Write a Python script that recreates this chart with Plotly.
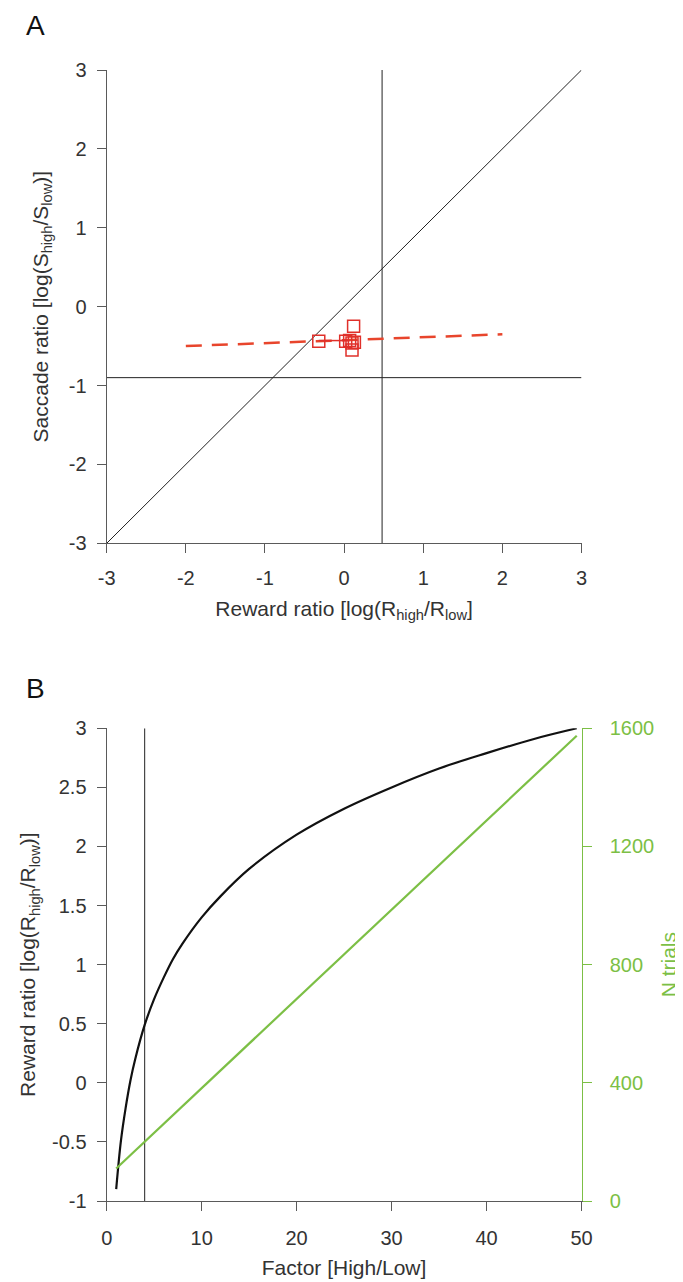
import plotly.graph_objects as go

# ---------------- Panel A data ----------------
diag_x = [-3, 3]
diag_y = [-3, 3]
vline_a_x = 0.48
hline_a_y = -0.9
fit_x = [-2, 2]
fit_y = [-0.50, -0.35]
sq_x = [-0.32, 0.02, 0.07, 0.10, 0.13, 0.12, 0.10]
sq_y = [-0.44, -0.44, -0.43, -0.46, -0.45, -0.25, -0.55]
seg_x = [-0.32, 0.07]
seg_y = [-0.43, -0.43]
ticks_a = [-3, -2, -1, 0, 1, 2, 3]
ticks_a_text = ["-3", "-2", "-1", "0", "1", "2", "3"]

# ---------------- Panel B data ----------------
factor = [1, 1.5, 2, 2.5, 3, 4, 5, 6, 7, 8, 10, 12, 15, 20, 25, 30, 35, 40, 45, 49.5]
reward_ratio = [-0.90, -0.49, -0.21, 0.02, 0.20, 0.49, 0.71, 0.89, 1.05, 1.18,
                1.40, 1.58, 1.81, 2.10, 2.32, 2.50, 2.66, 2.79, 2.91, 3.00]
ntrials_x = [1, 49.5]
ntrials_y = [110, 1575]
vline_b_x = 4
ticks_bx = [0, 10, 20, 30, 40, 50]
ticks_by = [-1, -0.5, 0, 0.5, 1, 1.5, 2, 2.5, 3]
ticks_by_text = ["-1", "-0.5", "0", "0.5", "1", "1.5", "2", "2.5", "3"]
ticks_bn = [0, 400, 800, 1200, 1600]

GREEN = "#7cbf45"
AX = "#5a5a5a"
TXT = "#333333"
FONT = "Liberation Sans"
TICKSIZE = 20
TITLESIZE = 21

# page body has an 8px margin; figure sized to fit the window
OFF = 8
W = 683 - OFF
H = 1282 - OFF


def px(x):
    return (x - OFF) / W


def py(y):
    return 1 - (y - OFF) / H


fig = go.Figure()

# Panel A
fig.add_trace(go.Scatter(x=diag_x, y=diag_y, mode="lines",
                         line=dict(color="#222222", width=1), xaxis="x", yaxis="y"))
fig.add_trace(go.Scatter(x=[vline_a_x, vline_a_x], y=[-3, 3], mode="lines",
                         line=dict(color="#222222", width=1), xaxis="x", yaxis="y"))
fig.add_trace(go.Scatter(x=[-3, 3], y=[hline_a_y, hline_a_y], mode="lines",
                         line=dict(color="#222222", width=1), xaxis="x", yaxis="y"))
fig.add_trace(go.Scatter(x=fit_x, y=fit_y, mode="lines",
                         line=dict(color="#e8452c", width=2.5, dash="16px,10px"),
                         xaxis="x", yaxis="y"))
fig.add_trace(go.Scatter(x=seg_x, y=seg_y, mode="lines",
                         line=dict(color="#e0302a", width=1.5), xaxis="x", yaxis="y"))
fig.add_trace(go.Scatter(x=sq_x, y=sq_y, mode="markers",
                         marker=dict(symbol="square-open", size=12, color="#e0302a",
                                     line=dict(width=1.5, color="#e0302a")),
                         xaxis="x", yaxis="y"))

# Panel B
fig.add_trace(go.Scatter(x=[vline_b_x, vline_b_x], y=[-1, 3], mode="lines",
                         line=dict(color="#222222", width=1), xaxis="x2", yaxis="y2"))
fig.add_trace(go.Scatter(x=factor, y=reward_ratio, mode="lines",
                         line=dict(color="#111111", width=2.2, shape="spline"),
                         xaxis="x2", yaxis="y2"))
fig.add_trace(go.Scatter(x=ntrials_x, y=ntrials_y, mode="lines",
                         line=dict(color=GREEN, width=2.2), xaxis="x2", yaxis="y3"))

axis_common = dict(showline=True, linecolor=AX, linewidth=1.3, ticks="outside",
                   ticklen=9, tickcolor=AX, tickwidth=1.3, showgrid=False,
                   zeroline=False, tickfont=dict(family=FONT, size=TICKSIZE, color=TXT),
                   mirror=False, automargin=False)

xdom = [px(106.7), px(581.5)]
ya_dom = [py(543.3), py(70)]
yb_dom = [py(1201), py(728.3)]

fig.update_layout(
    width=W, height=H,
    margin=dict(l=0, r=0, t=0, b=0),
    paper_bgcolor="white", plot_bgcolor="white",
    showlegend=False,
    font=dict(family=FONT, color=TXT),
    xaxis=dict(axis_common, domain=xdom, anchor="y", range=[-3, 3],
               tickvals=ticks_a, ticktext=ticks_a_text, ticklabelstandoff=8,
               title=dict(text="Reward ratio [log(R<sub>high</sub>/R<sub>low</sub>]",
                          font=dict(family=FONT, size=TITLESIZE, color=TXT), standoff=12)),
    yaxis=dict(axis_common, domain=ya_dom, anchor="x", range=[-3, 3],
               tickvals=ticks_a, ticktext=ticks_a_text, ticklabelstandoff=6,
               title=dict(text="Saccade ratio [log(S<sub>high</sub>/S<sub>low</sub>)]",
                          font=dict(family=FONT, size=TITLESIZE, color=TXT), standoff=14)),
    xaxis2=dict(axis_common, domain=xdom, anchor="y2", range=[0, 50],
                tickvals=ticks_bx, ticklabelstandoff=10,
                title=dict(text="Factor [High/Low]",
                           font=dict(family=FONT, size=TITLESIZE, color=TXT), standoff=12)),
    yaxis2=dict(axis_common, domain=yb_dom, anchor="x2", range=[-1, 3],
                tickvals=ticks_by, ticktext=ticks_by_text, ticklabelstandoff=6,
                title=dict(text="Reward ratio [log(R<sub>high</sub>/R<sub>low</sub>)]",
                           font=dict(family=FONT, size=TITLESIZE, color=TXT), standoff=10)),
    yaxis3=dict(showline=True, linecolor=GREEN, linewidth=1.3, ticks="outside",
                ticklen=9, tickcolor=GREEN, tickwidth=1.3, showgrid=False,
                zeroline=False, tickfont=dict(family=FONT, size=TICKSIZE, color=GREEN),
                overlaying="y2", side="right", anchor="x2", range=[0, 1600],
                tickvals=ticks_bn, ticklabelstandoff=14, automargin=False,
                title=dict(text="N trials", font=dict(family=FONT, size=TITLESIZE, color=GREEN),
                           standoff=8)),
    annotations=[
        dict(text="A", x=px(35), y=py(25), xref="paper", yref="paper",
             showarrow=False, font=dict(family=FONT, size=28, color="#111111"),
             xanchor="center", yanchor="middle"),
        dict(text="B", x=px(35), y=py(688), xref="paper", yref="paper",
             showarrow=False, font=dict(family=FONT, size=28, color="#111111"),
             xanchor="center", yanchor="middle"),
    ],
)

fig.write_html("out.html")
